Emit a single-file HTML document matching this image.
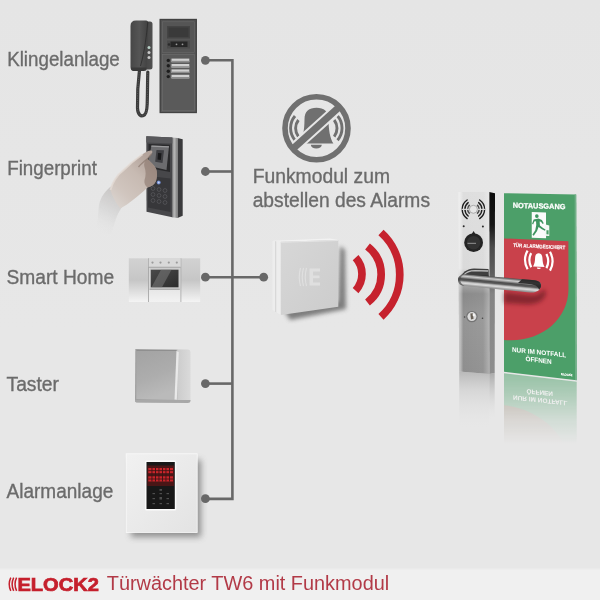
<!DOCTYPE html>
<html lang="de">
<head>
<meta charset="utf-8">
<title>ELOCK2 Türwächter TW6 mit Funkmodul</title>
<style>
html,body{margin:0;padding:0;background:#e8e8e8;}
body{width:600px;height:600px;overflow:hidden;font-family:"Liberation Sans",sans-serif;}
svg{display:block}
.abs{position:absolute;left:0;top:0;}
body{position:relative;}
text{font-family:"Liberation Sans",sans-serif;}
svg{opacity:0.999;}
.lbl{font-size:20.5px;fill:#6b6b6b;stroke:#6b6b6b;stroke-width:0.35px;}
</style>
</head>
<body>
<svg class="abs" width="600" height="600" viewBox="0 0 600 600">
<defs>
<linearGradient id="bg" x1="0" y1="0" x2="0" y2="1">
<stop offset="0" stop-color="#e5e5e5"/>
<stop offset="0.55" stop-color="#e7e7e7"/>
<stop offset="1" stop-color="#e7e7e7"/>
</linearGradient>
<linearGradient id="ftop" x1="0" y1="0" x2="0" y2="1">
<stop offset="0" stop-color="#e7e7e7"/>
<stop offset="1" stop-color="#f0f0f0"/>
</linearGradient>
<linearGradient id="aplate" x1="0" y1="0" x2="1" y2="1">
<stop offset="0" stop-color="#f1f1f1"/><stop offset="1" stop-color="#e3e3e3"/>
</linearGradient>
<filter id="ashadow" x="-20%" y="-20%" width="140%" height="140%"><feGaussianBlur stdDeviation="3"/></filter>
<linearGradient id="dplate" x1="0" y1="0" x2="0" y2="1">
<stop offset="0" stop-color="#dedede"/><stop offset="0.420" stop-color="#dadada"/><stop offset="0.480" stop-color="#b4b4b4"/><stop offset="0.560" stop-color="#8a8a8a"/><stop offset="0.700" stop-color="#959595"/><stop offset="1" stop-color="#8e8e8e"/>
</linearGradient>
<linearGradient id="dplateh" x1="0" y1="0" x2="1" y2="0">
<stop offset="0" stop-color="#fff" stop-opacity="0.550"/><stop offset="0.080" stop-color="#fff" stop-opacity="0.350"/><stop offset="0.160" stop-color="#fff" stop-opacity="0"/><stop offset="0.800" stop-color="#fff" stop-opacity="0.050"/><stop offset="1" stop-color="#fff" stop-opacity="0.300"/>
</linearGradient>
<linearGradient id="dside" x1="0" y1="0" x2="0" y2="1">
<stop offset="0" stop-color="#0b0b0b"/><stop offset="0.180" stop-color="#161616"/><stop offset="0.300" stop-color="#4a4a4a"/><stop offset="0.450" stop-color="#606060"/><stop offset="0.560" stop-color="#848484"/><stop offset="1" stop-color="#8e8e8e"/>
</linearGradient>
<linearGradient id="dhandle" gradientUnits="userSpaceOnUse" x1="498" y1="277" x2="496.800" y2="289.300">
<stop offset="0" stop-color="#505050"/><stop offset="0.100" stop-color="#8a8a8a"/><stop offset="0.200" stop-color="#cdcdcd"/><stop offset="0.300" stop-color="#9c9c9c"/><stop offset="0.420" stop-color="#4c4c4c"/><stop offset="0.550" stop-color="#5c5c5c"/><stop offset="0.680" stop-color="#c2c2c2"/><stop offset="0.780" stop-color="#dadada"/><stop offset="0.900" stop-color="#a4a4a4"/><stop offset="1" stop-color="#888"/>
</linearGradient>
<linearGradient id="dreflp" x1="0" y1="0" x2="0" y2="1">
<stop offset="0" stop-color="#b4b4b4" stop-opacity="0.900"/><stop offset="0.300" stop-color="#cfcfcf" stop-opacity="0.700"/><stop offset="1" stop-color="#e9e9e9" stop-opacity="0"/>
</linearGradient>
<linearGradient id="dreflp2" x1="0" y1="0" x2="0" y2="1">
<stop offset="0" stop-color="#a4a4a4" stop-opacity="0.900"/><stop offset="1" stop-color="#e9e9e9" stop-opacity="0"/>
</linearGradient>
<linearGradient id="dreflg" x1="0" y1="0" x2="0" y2="1">
<stop offset="0" stop-color="#7fb594" stop-opacity="0.950"/><stop offset="0.350" stop-color="#a4cbb3" stop-opacity="0.750"/><stop offset="0.700" stop-color="#cfe0d6" stop-opacity="0.400"/><stop offset="1" stop-color="#e9e9e9" stop-opacity="0"/>
</linearGradient>
<linearGradient id="dreflfade" x1="0" y1="0" x2="0" y2="1">
<stop offset="0" stop-color="#e9e9e9" stop-opacity="0"/><stop offset="1" stop-color="#e9e9e9" stop-opacity="0"/>
</linearGradient>
<linearGradient id="rfade" gradientUnits="userSpaceOnUse" x1="0" y1="374" x2="0" y2="444">
<stop offset="0" stop-color="#fff" stop-opacity="0.520"/><stop offset="0.300" stop-color="#fff" stop-opacity="0.360"/><stop offset="0.650" stop-color="#fff" stop-opacity="0.140"/><stop offset="1" stop-color="#fff" stop-opacity="0"/>
</linearGradient>
<mask id="rmask" maskUnits="userSpaceOnUse" x="500" y="365" width="80" height="100"><rect x="500" y="365" width="80" height="100" fill="url(#rfade)"/></mask>
<filter id="hshadow" x="-20%" y="-50%" width="140%" height="200%"><feGaussianBlur stdDeviation="2"/></filter>
<linearGradient id="fsteel" x1="0" y1="0" x2="1" y2="0">
<stop offset="0" stop-color="#8c8c8c"/><stop offset="0.5" stop-color="#b5b5b5"/><stop offset="1" stop-color="#7a7a7a"/>
</linearGradient>
<linearGradient id="fhand" gradientUnits="userSpaceOnUse" x1="150" y1="160" x2="112" y2="200">
<stop offset="0" stop-color="#b3a39b"/><stop offset="0.350" stop-color="#c7bab2"/><stop offset="0.750" stop-color="#d0c5be"/><stop offset="1" stop-color="#d9d2cd"/>
</linearGradient>
<linearGradient id="fsleeve" gradientUnits="userSpaceOnUse" x1="120" y1="196" x2="100" y2="234">
<stop offset="0" stop-color="#cbc9c8" stop-opacity="1"/><stop offset="0.450" stop-color="#d9d9d9" stop-opacity="0.900"/><stop offset="1" stop-color="#e6e6e6" stop-opacity="0"/>
</linearGradient>
<filter id="fblur" x="-10%" y="-10%" width="120%" height="120%"><feGaussianBlur stdDeviation="0.700"/></filter>
<linearGradient id="ufront" x1="0" y1="0" x2="1" y2="1">
<stop offset="0" stop-color="#d7d7d7"/><stop offset="1" stop-color="#cccccc"/>
</linearGradient>
<filter id="ushadow" x="-30%" y="-30%" width="160%" height="160%"><feGaussianBlur stdDeviation="2.200"/></filter>
<linearGradient id="khand" x1="0" y1="0" x2="1" y2="0">
<stop offset="0" stop-color="#474747"/><stop offset="0.5" stop-color="#555"/><stop offset="1" stop-color="#404040"/>
</linearGradient>
<linearGradient id="kbase" x1="0" y1="0" x2="1" y2="0">
<stop offset="0" stop-color="#3c3c3c"/><stop offset="1" stop-color="#505050"/>
</linearGradient>
<linearGradient id="kpanel" x1="0" y1="0" x2="0" y2="1">
<stop offset="0" stop-color="#515151"/><stop offset="1" stop-color="#5a5a5a"/>
</linearGradient>
<linearGradient id="scab" x1="0" y1="0" x2="0" y2="1">
<stop offset="0" stop-color="#d2d2d2"/><stop offset="0.500" stop-color="#c6c6c6"/><stop offset="0.780" stop-color="#e0e0e0"/><stop offset="1" stop-color="#f4f4f4"/>
</linearGradient>
<linearGradient id="soven" x1="0" y1="0" x2="0" y2="1">
<stop offset="0" stop-color="#dcdcdc"/><stop offset="0.700" stop-color="#e6e6e6"/><stop offset="1" stop-color="#f2f2f2"/>
</linearGradient>
<linearGradient id="sglass" x1="0" y1="0" x2="1" y2="1">
<stop offset="0" stop-color="#4a4a4a"/><stop offset="1" stop-color="#2c2c2c"/>
</linearGradient>
<linearGradient id="tside" x1="0" y1="0" x2="1" y2="0">
<stop offset="0" stop-color="#a0a0a0"/><stop offset="0.740" stop-color="#b5b5b5"/><stop offset="0.780" stop-color="#cdcdcd"/><stop offset="1" stop-color="#dadada"/>
</linearGradient>
<linearGradient id="tfront" x1="0" y1="0" x2="0.300" y2="1">
<stop offset="0" stop-color="#a3a3a3"/><stop offset="0.600" stop-color="#adadad"/><stop offset="1" stop-color="#bababa"/>
</linearGradient>

</defs>
<rect width="600" height="600" fill="url(#bg)"/>
<!-- footer -->
<rect x="0" y="570" width="600" height="30" fill="#f0f0f0"/>
<rect x="0" y="567.500" width="600" height="3" fill="url(#ftop)"/>

<!-- connector lines -->
<g stroke="#686868" stroke-width="2.600" fill="none" stroke-linecap="butt">
<path d="M205 60.300 H232.400 V498.900 H205"/>
<path d="M205 171.500 H232"/>
<path d="M205 277.200 H263.500"/>
<path d="M205 383.600 H232"/>
</g>
<g fill="#686868">
<circle cx="205.400" cy="60.300" r="4.400"/>
<circle cx="205.400" cy="171.500" r="4.400"/>
<circle cx="205.400" cy="277.200" r="4.400"/>
<circle cx="205.400" cy="383.600" r="4.400"/>
<circle cx="205.400" cy="498.700" r="4.400"/>
<circle cx="263.700" cy="277.200" r="4.400"/>
</g>

<!-- labels -->
<text class="lbl" x="7.200" y="65.600" textLength="112.600" lengthAdjust="spacingAndGlyphs">Klingelanlage</text>
<text class="lbl" x="7.200" y="174.700" textLength="89.700" lengthAdjust="spacingAndGlyphs">Fingerprint</text>
<text class="lbl" x="6.500" y="284.200" textLength="107.700" lengthAdjust="spacingAndGlyphs">Smart Home</text>
<text class="lbl" x="6.500" y="390.800" textLength="52.500" lengthAdjust="spacingAndGlyphs">Taster</text>
<text class="lbl" x="6.500" y="498" textLength="106.800" lengthAdjust="spacingAndGlyphs">Alarmanlage</text>
<text class="lbl" x="252.700" y="182.700" textLength="137.300" lengthAdjust="spacingAndGlyphs">Funkmodul zum</text>
<text class="lbl" x="252.700" y="207.200" textLength="177.300" lengthAdjust="spacingAndGlyphs">abstellen des Alarms</text>

<g id="klingel">
<!-- handset cord -->
<path d="M139.500 70 C138 82 137.200 96 137.500 108 C137.700 115 141 116.500 143.500 115.500 C146.500 114.500 147 110 147.200 104 C147.500 94 147.500 82 147.800 72" fill="none" stroke="#3b3b3b" stroke-width="3.200" stroke-linecap="round"/>
<path d="M139.500 70 C138 82 137.200 96 137.500 108 C137.700 115 141 116.500 143.500 115.500 C146.500 114.500 147 110 147.200 104 C147.500 94 147.500 82 147.800 72" fill="none" stroke="#5a5a5a" stroke-width="1" stroke-dasharray="1 1.300"/>
<!-- handset base -->
<rect x="139" y="21.500" width="13.500" height="48" rx="2.500" fill="url(#kbase)"/>
<!-- handset -->
<path d="M130.500 26 Q130.500 20.500 136 20.500 H146 Q148.500 20.500 148.300 24 L146.500 66 Q146.300 70.500 142 70.500 H133.500 Q130.500 70.500 130.500 67 Z" fill="url(#khand)"/>
<path d="M131 67.500 H146.500 V70 Q146 71 142 71 H133.500 Q131 71 131 67.500Z" fill="#3a3a3a"/>
<path d="M147.800 22 C146.500 35 145 50 140.500 66" fill="none" stroke="#2c2c2c" stroke-width="1" opacity="0.800"/>
<circle cx="149" cy="47.500" r="1.500" fill="#b9d2c8"/>
<circle cx="149" cy="52.500" r="1.500" fill="#c9c9c9"/>
<circle cx="149" cy="57.500" r="1.500" fill="#c9c9c9"/>
<!-- door panel -->
<rect x="159.500" y="18.800" width="37.500" height="94.400" fill="url(#kpanel)"/>
<rect x="160.300" y="19.600" width="35.900" height="92.800" fill="none" stroke="#3e3e3e" stroke-width="0.800"/>
<rect x="162.300" y="21.800" width="32" height="30.500" fill="#555" stroke="#6a6a6a" stroke-width="0.600"/>
<rect x="162.300" y="54.300" width="32" height="56.500" fill="#5a5a5a" stroke="#6e6e6e" stroke-width="0.600"/>
<rect x="167" y="26" width="23" height="12.500" fill="#444"/>
<rect x="168.500" y="27.500" width="20" height="9.500" fill="#3a3a3a"/>
<rect x="167" y="40.500" width="23" height="8" fill="#4a4a4a"/>
<rect x="170.500" y="41.500" width="17" height="5.500" fill="#262626"/>
<circle cx="169" cy="44.500" r="1.300" fill="#2a2a2a"/>
<circle cx="176.500" cy="44.300" r="0.900" fill="#9a9a9a"/>
<circle cx="182.500" cy="44.300" r="0.900" fill="#9a9a9a"/>
<g fill="#d0d0d0">
<rect x="171.500" y="58.600" width="17.800" height="3.600"/>
<rect x="171.500" y="64" width="17.800" height="3.600"/>
<rect x="171.500" y="69.400" width="17.800" height="3.600"/>
<rect x="171.500" y="74.800" width="17.800" height="3.600"/>
</g>
<g fill="#8d8d8d">
<rect x="171.500" y="60.800" width="17.800" height="1.400"/>
<rect x="171.500" y="66.200" width="17.800" height="1.400"/>
<rect x="171.500" y="71.600" width="17.800" height="1.400"/>
<rect x="171.500" y="77" width="17.800" height="1.400"/>
</g>
<g fill="#1e1e1e">
<circle cx="168.300" cy="60.400" r="1.700"/>
<circle cx="168.300" cy="65.800" r="1.700"/>
<circle cx="168.300" cy="71.200" r="1.700"/>
<circle cx="168.300" cy="76.600" r="1.700"/>
</g>
</g>

<g id="finger">
<!-- device side -->
<path d="M177.500 138 L182.700 139.200 L182.700 215.800 L177.500 218 Z" fill="#3a3a3c"/>
<!-- steel strip -->
<path d="M171.800 137.400 L177.500 138 L177.500 218 L171.800 217.300 Z" fill="url(#fsteel)"/>
<!-- front face -->
<path d="M146.300 136.300 L172.300 137.400 L172.300 217.300 L146.500 211.800 Z" fill="#47474a"/>
<path d="M146.300 136.300 L172.300 137.400 L172.300 143.500 L146.300 142.500 Z" fill="#58585b"/>
<!-- sensor recess -->
<path d="M148.500 144 L170 144.800 L170 172 L148.500 168 Z" fill="#2a2a2c"/>
<!-- sensor block -->
<path d="M151.500 145.500 L169 146.300 L166.500 170 L147.500 165.500 Z" fill="#6c6c6f"/>
<path d="M151.500 145.500 L169 146.300 L168.800 147.600 L151.200 146.800 Z" fill="#9a9a9c"/>
<path d="M156.500 150 L164 150.300 L162.500 163 L155.200 161.800 Z" fill="#3e3e42"/>
<path d="M158 153 L161.500 153.200 L160.800 160 L157.500 159.600 Z" fill="#19191b"/>
<!-- keypad -->
<path d="M148 176 L170.500 178.500 L170.500 212 L148 207.500 Z" fill="#37373a"/>
<g fill="none" stroke="#5a5a5e" stroke-width="0.700">
<circle cx="153" cy="188.500" r="1.900"/><circle cx="159" cy="189.500" r="1.900"/><circle cx="165" cy="190.500" r="1.900"/>
<circle cx="153" cy="194.500" r="1.900"/><circle cx="159" cy="195.500" r="1.900"/><circle cx="165" cy="196.500" r="1.900"/>
<circle cx="153" cy="200.500" r="1.900"/><circle cx="159" cy="201.500" r="1.900"/><circle cx="165" cy="202.500" r="1.900"/>
</g>
<circle cx="158.700" cy="182.500" r="2" fill="#6d86c8"/>
<circle cx="158.700" cy="182.500" r="1" fill="#c9d6f5"/>
<!-- hand -->
<g filter="url(#fblur)">
<path d="M96 236 L99 205 C101 196 106 190 111.600 186 L125 203 C121 208 117 214 115 222 L110 237 Z" fill="url(#fsleeve)"/>
<path d="M151.400 150.600 C152.600 151 152.600 152.600 151.700 153.600 L147.400 158.800 C150 162 154 164.500 156 168.500 C157.400 172 157.300 177 156 181 C154.800 184.500 151.500 186.500 147.500 187.500 C143 192 135 198.500 127 204.500 L120.300 208.500 C116 203 112 196 110.500 190 C112 183 117 175 122 171.500 C127 166.500 135 159.500 142.500 154.200 C146 152 149.500 150.200 151.400 150.600 Z" fill="url(#fhand)"/>
<path d="M147.400 158.800 C150 162 154 164.500 156 168.500 C157.400 172 157.300 177 156 181 C154.800 184.500 151.500 186.500 147.500 187.500 C145 186 144 183 144.500 180 C146 176 146 171 144.500 167 C143.500 164 144.500 161 147.400 158.800 Z" fill="#8a776d" opacity="0.600"/>
<path d="M151.700 153.600 L147.400 158.800 C144 161.500 141 164 138.500 167" fill="none" stroke="#8a776d" stroke-width="1.300" opacity="0.700"/>
<path d="M142.500 154.200 C135 159.500 127 166.500 122 171.500 C117 175 112 183 110.500 190" fill="none" stroke="#e4dbd5" stroke-width="2" opacity="0.800"/>
</g>
</g>
<g id="smart">
<rect x="128.800" y="258.300" width="71.400" height="43.700" fill="url(#scab)"/>
<!-- oven column -->
<rect x="148.300" y="258.300" width="32.500" height="43.700" fill="url(#soven)"/>
<rect x="148" y="258.300" width="0.800" height="43.700" fill="#9f9f9f"/>
<rect x="180.500" y="258.300" width="0.800" height="43.700" fill="#a5a5a5"/>
<!-- control panel -->
<rect x="148.800" y="258.300" width="31.700" height="8.700" fill="#d9d9d9"/>
<rect x="148.800" y="266.800" width="31.700" height="0.900" fill="#9a9a9a"/>
<g fill="#9b9b9b"><circle cx="152.500" cy="262.600" r="1.100"/><circle cx="160.500" cy="262.600" r="1.100"/><circle cx="168.800" cy="262.600" r="1.100"/><circle cx="176.800" cy="262.600" r="1.100"/></g>
<!-- oven door -->
<rect x="149.500" y="268.200" width="30.300" height="20.800" fill="#c9c9c9"/>
<rect x="150.800" y="269.700" width="27.700" height="17.600" fill="url(#sglass)"/>
<path d="M161 269.700 H171.500 L162 287.300 H151.500 Z" fill="#7a7a7a" opacity="0.550"/>
<rect x="149.500" y="288.800" width="30.300" height="1" fill="#a0a0a0"/>
</g>

<g id="taster">
<!-- outer frame / side -->
<path d="M135.300 349 L188 349.500 Q190.500 349.600 190.500 352 L190.500 399 Q190.500 402.800 187.500 402.800 L136.500 402.300 Q135 402.200 135 400.500 Z" fill="url(#tside)"/>
<path d="M135 400 L190.500 400 L190.500 400.500 Q190.500 403 187.500 403 L136.500 402.500 Q135 402.400 135 400.500 Z" fill="#a8a8a8"/>
<!-- rocker front -->
<path d="M136.500 351 L176.500 351 L174.500 399.500 L136.300 399 Z" fill="url(#tfront)"/>
<!-- rocker right bevel -->
<path d="M176.500 351 L178.800 352 L176.800 399.800 L174.500 399.500 Z" fill="#e9e9e9"/>
<path d="M136.500 351 L176.500 351 L176.600 350 L136.500 350 Z" fill="#8f8f8f"/>
</g>

<g id="alarm">
<rect x="131" y="460" width="70" height="77" fill="#6a6a6a" opacity="0.700" filter="url(#ashadow)"/>
<rect x="126.200" y="453.800" width="71" height="78.700" fill="url(#aplate)"/>
<rect x="126.200" y="453.800" width="71" height="78.700" fill="none" stroke="#fafafa" stroke-width="0.800"/>
<rect x="145" y="460.500" width="31.300" height="50" rx="1.500" fill="#fbfbfb"/>
<rect x="146.500" y="462" width="28.300" height="47" fill="#181818"/>
<rect x="147.300" y="465.500" width="26.700" height="20.500" fill="#4a1616"/>
<g fill="#d8262c">
<rect x="148.300" y="468" width="24.700" height="5.200" opacity="0.900"/>
<rect x="148.300" y="476.300" width="24.700" height="5.200" opacity="0.900"/>
</g>
<g fill="#3a1414">
<rect x="151.500" y="468" width="0.900" height="13.500"/><rect x="155" y="468" width="0.900" height="13.500"/><rect x="158.500" y="468" width="0.900" height="13.500"/><rect x="162" y="468" width="0.900" height="13.500"/><rect x="165.500" y="468" width="0.900" height="13.500"/><rect x="169" y="468" width="0.900" height="13.500"/>
<rect x="148.300" y="470.300" width="24.700" height="0.800"/><rect x="148.300" y="478.600" width="24.700" height="0.800"/>
</g>
<g fill="#4e4e4e">
<rect x="152.500" y="493" width="2.500" height="1.200"/><rect x="159.500" y="493" width="2.500" height="1.200"/><rect x="166.500" y="493" width="2.500" height="1.200"/>
<rect x="152.500" y="498" width="2.500" height="1.200"/><rect x="159.500" y="497" width="2.500" height="2.500"/><rect x="166.500" y="498" width="2.500" height="1.200"/>
<rect x="152.500" y="503" width="2.500" height="1.200"/><rect x="159.500" y="503" width="2.500" height="1.200"/><rect x="166.500" y="503" width="2.500" height="1.200"/>
<rect x="159.500" y="489.500" width="2.500" height="0.900" fill="#888"/>
</g>
</g>

<g id="nobell">
<g fill="none" stroke="#707070" stroke-width="2.900" stroke-linecap="butt">
<path d="M298.400 120 A13.700 13.700 0 0 0 298.400 136.600"/>
<path d="M295 116 A18.700 18.700 0 0 0 295 140.200"/>
<path d="M334.200 120 A13.700 13.700 0 0 1 334.200 136.600"/>
<path d="M337.600 116 A18.700 18.700 0 0 1 337.600 140.200"/>
</g>
<path d="M307 143.600 H299.600 C303 138 304.400 130 304.500 119.500 C304.600 111 309 107.800 316.500 107.800 C324 107.800 328.400 111 328.500 119.500 C328.600 130 330 138 333.400 143.600 H307 Z" fill="#707070"/>
<path d="M310.800 144.800 A5.500 3.800 0 0 0 321.800 144.800 Z" fill="#707070"/>
<line x1="292.400" y1="149.200" x2="340.600" y2="105.800" stroke="#e6e6e6" stroke-width="11"/>
<line x1="293.100" y1="148.600" x2="339.900" y2="106.400" stroke="#707070" stroke-width="7"/>
<circle cx="316.500" cy="128.300" r="31.500" fill="none" stroke="#707070" stroke-width="5.600"/>
</g>

<g id="funk">
<!-- shadow -->
<path d="M284 310 L338 302 L340 246 L345 250 L346 309 L290 320 Z" fill="#5a5a5a" opacity="0.750" filter="url(#ushadow)"/>
<!-- left side -->
<path d="M272.500 240.800 L280.800 241.700 L280.800 315 L272.500 310 Z" fill="#ededed"/>
<path d="M275.300 241.100 L276.200 241.200 L276.200 312.200 L275.300 311.700 Z" fill="#cfcfcf"/>
<!-- top edge -->
<path d="M272.500 240.800 L330 238.600 L338.300 240 L280.800 241.700 Z" fill="#f2f2f2"/>
<!-- front -->
<path d="M280.800 241.700 L338.300 240 L338.300 306.700 L280.800 315 Z" fill="url(#ufront)"/>
<path d="M280.800 241.700 L338.300 240 L338.300 241 L280.800 242.800 Z" fill="#e4e4e4"/>
<!-- logo -->
<g fill="none" stroke="#e4e4e4" stroke-width="1.100" opacity="0.800">
<path d="M300.500 268 Q298 277 300.500 286"/>
<path d="M303.500 268 Q301 277 303.500 286"/>
<path d="M306.500 268 Q304 277 306.500 286"/>
</g>
<path d="M309.500 268.500 H320 V271.500 H313 V275.500 H319.500 V278.300 H313 V282.500 H320 V285.500 H309.500 Z" fill="#e2e2e2" opacity="0.800"/>
</g>

<g id="waves" fill="none" stroke="#c6222e" stroke-width="7.700" stroke-linecap="butt">
<path d="M355.600 257.600 A24.500 24.500 0 0 1 355.600 290.600"/>
<path d="M367.500 246.500 A35.500 35.500 0 0 1 367.500 302.500"/>
<path d="M381 232.500 A56.700 56.700 0 0 1 381 316.800"/>
</g>

<g id="doorbase">
<!-- plate reflection -->
<path d="M459.200 371.500 L489.300 374 L489.300 432 L459.200 432 Z" fill="url(#dreflp)"/>
<path d="M489.300 374 L494.700 373 L494.700 422 L489.300 422 Z" fill="url(#dreflp2)"/>
<!-- plate side -->
<path d="M489.200 192 L495 193.300 L494.700 373 L489.300 374 Z" fill="url(#dside)"/>
<!-- plate front -->
<path d="M458.300 192 L489.200 192 L489.300 374 L459.200 371.500 Z" fill="url(#dplate)"/>
<path d="M458.300 192 L489.200 192 L489.300 374 L459.200 371.500 Z" fill="url(#dplateh)"/>
<!-- speaker -->
<g fill="none" stroke="#1d1d1d" stroke-width="1.400" stroke-linecap="round">
<path d="M468.17 202.60 A8.50 8.50 0 0 0 468.17 216.00"/>
<path d="M478.63 202.60 A8.50 8.50 0 0 1 478.63 216.00"/>
<path d="M467.14 200.01 A11.20 11.20 0 0 0 467.14 218.59"/>
<path d="M479.66 200.01 A11.20 11.20 0 0 1 479.66 218.59"/>
</g>
<g fill="none" stroke="#4a4a4a" stroke-width="1.500">
<path d="M469.67 204.86 A5.80 5.80 0 0 0 469.67 213.74"/>
<path d="M477.13 204.86 A5.80 5.80 0 0 1 477.13 213.74"/>
</g>
<rect x="461.500" y="208.800" width="24" height="1.100" fill="#dedede"/>
<circle cx="473.400" cy="209.300" r="4" fill="#e6e6e6" stroke="#9a9a9a" stroke-width="0.800"/>
<circle cx="463.700" cy="226.300" r="1" fill="#2a2a2a"/>
<circle cx="482.900" cy="226.600" r="1" fill="#2a2a2a"/>
<!-- black knob -->
<circle cx="473.600" cy="242.700" r="9.400" fill="#242424"/>
<path d="M471.800 234 L473.600 231 L475.400 234 Z" fill="#242424"/>
<circle cx="473.600" cy="242.700" r="6.800" fill="#333"/>
<rect x="467.500" y="242.800" width="8.500" height="1.100" fill="#8a8a8a"/>
<!-- keyhole -->
<circle cx="464.600" cy="317" r="0.800" fill="#444"/>
<circle cx="482.500" cy="318.300" r="0.800" fill="#444"/>
<circle cx="471.900" cy="316.600" r="5.700" fill="#747474"/>
<circle cx="471.900" cy="316.600" r="4.500" fill="#dcdcdc"/>
<path d="M470.300 313.500 L472.800 313.200 L473.600 318.800 L471 319.600 Z" fill="#6a6258"/>
<circle cx="473.800" cy="315" r="1.200" fill="#f6f6f6"/>
</g>

<g id="signrefl" mask="url(#rmask)">
<path d="M504.00 553.00 L576.70 557.00 L576.70 381.70 L504.00 373.30 Z" fill="#4c9f69"/>
<path d="M504.00 507.28 L569.14 511.86 L569.14 466.75 C569.14 436.48 540.30 409.05 504.00 405.25 Z" fill="#c9414b" fill-opacity="0.450"/>
<g transform="matrix(1.00481 0.11036 0.00000 -0.98636 504.427 551.096)" fill="#fff" font-weight="bold" font-size="6.500"><text x="8.600" y="159.100" textLength="54.200" lengthAdjust="spacingAndGlyphs">NUR IM NOTFALL</text><text x="22" y="166.900" textLength="26.300" lengthAdjust="spacingAndGlyphs">ÖFFNEN</text></g>
</g>
<g id="sign">
<path d="M504.00 193.20 L576.20 194.50 L576.70 380.20 L504.00 371.80 Z" fill="#4c9f69"/>
<path d="M504.00 238.42 L568.36 241.17 L568.48 288.55 C568.55 320.44 539.10 343.32 504.00 339.88 Z" fill="#c9414b"/>
<path d="M574.65 194.47 L576.20 194.50 L576.70 380.20 L575.14 380.02 Z" fill="#73b089"/>
<g transform="matrix(0.99604 0.02437 0.00128 1.00500 503.345 192.957)"><text x="9.400" y="14.600" font-size="7.400" font-weight="bold" fill="#fff" stroke="#fff" stroke-width="0.250" textLength="53" lengthAdjust="spacingAndGlyphs">NOTAUSGANG</text></g>
<g transform="matrix(0.99886 0.03413 0.00136 1.00743 503.242 192.555)">
<rect x="28.500" y="18.300" width="14.300" height="25.500" fill="#fbfbfb"/>
<path d="M41.500 30 L46 31.200 L46 41.500 L41.500 41.500 Z" fill="#f4f8f5"/>
<g fill="#3f9460">
<circle cx="33.600" cy="22.300" r="1.800"/>
<path d="M30.400 25.700 L35.200 24.600 L38.700 26 L40.500 29 L39.500 29.800 L37.700 27.800 L36.400 27.500 L36.700 31.500 L39.800 33.800 L42.300 35.300 L41.700 36.600 L38.600 35.200 L35.300 33 L33.800 37 L30.500 41.800 L29.100 41 L32 36.300 L33 31 L32.800 27.300 L31 27.800 L29.900 30.600 L28.800 30 Z"/>
<rect x="43.200" y="36" width="2.200" height="4" fill="#4c9f69"/>
</g>

</g>
<g transform="matrix(0.99760 0.04648 0.00129 1.00809 503.290 192.083)"><text x="9.800" y="54" font-size="5.100" font-weight="bold" fill="#fff" stroke="#fff" stroke-width="0.150" textLength="52.300" lengthAdjust="spacingAndGlyphs">TÜR ALARMGESICHERT</text></g>
<g transform="matrix(0.99921 0.05412 0.00133 1.00969 503.231 191.716)">
<g fill="none" stroke="#fff" stroke-width="2.200">
<path d="M27.900 59.300 A15 15 0 0 0 27.900 73.300"/>
<path d="M24.300 57 A19 19 0 0 0 24.300 75.600"/>
<path d="M43.100 59.300 A15 15 0 0 1 43.100 73.300"/>
<path d="M46.700 57 A19 19 0 0 1 46.700 75.600"/>
</g>
<path d="M29.700 72.400 C31.300 70 31.700 67 31.800 64 C31.900 60.600 33.300 59.100 35.500 59.100 C37.700 59.100 39.100 60.600 39.200 64 C39.300 67 39.700 70 41.300 72.400 Z" fill="#fff"/>
<path d="M33.500 73.200 A2 1.500 0 0 0 37.500 73.200 Z" fill="#fff"/>

</g>
<g transform="matrix(1.00159 0.10317 0.00130 1.01600 503.150 189.267)" fill="#fff" font-weight="bold" font-size="6.500"><text x="8.600" y="159.100" textLength="54.200" lengthAdjust="spacingAndGlyphs">NUR IM NOTFALL</text></g>
<g transform="matrix(1.00189 0.10757 0.00130 1.01662 503.139 189.015)" fill="#fff" font-weight="bold" font-size="6.500"><text x="22" y="166.900" textLength="26.300" lengthAdjust="spacingAndGlyphs">ÖFFNEN</text></g>
<g transform="matrix(1.03204 0.11699 0.00237 1.03256 501.491 185.838)"><text x="57.300" y="176.700" font-size="2.900" font-weight="bold" fill="#fff" stroke="#fff" stroke-width="0.150" textLength="11" lengthAdjust="spacingAndGlyphs">ELOCK2</text></g>
</g>
<g id="doortop">
<!-- handle shadow on sign -->
<path d="M504 292 L530 295 C538 295.500 543 292 544 288 L546 294 C544 301 536 304.500 528 304.500 L504 303 Z" fill="#4a0e14" opacity="0.500" filter="url(#hshadow)"/>
<!-- back leg -->
<path d="M460 278.500 C462 272.500 467 268.800 474 268.600 L488.500 269 L489 278 L466 279 Z" fill="#3f3f3f"/>
<path d="M463.500 275.500 C466 272 470 270.600 475 270.600 L488 271" fill="none" stroke="#bdbdbd" stroke-width="1.300"/>
<path d="M466 277.300 C470 275.300 478 275 488.500 275.800 L488.500 278 L466 279 Z" fill="#262626"/>
<!-- main bar -->
<path d="M464.500 274.200 C460.500 274.200 458 276.800 458 280 C458 283.300 460.500 285.800 464.500 285.800 L530 292.500 C537 293 541 289.500 541 285.200 C541 282 538 280.300 532 280 Z" fill="url(#dhandle)"/>
<!-- left cap shading -->
<path d="M464.500 274.200 C460.500 274.200 458 276.800 458 280 C458 283.300 460.500 285.800 464.500 285.800 C461.500 284.500 460.300 282.500 460.300 280 C460.300 277.500 461.800 275.300 464.500 274.200 Z" fill="#4a4a4a" opacity="0.700"/>
<!-- right cap -->
<path d="M522 279.200 L532 280 C538 280.300 541 282 541 285.200 C541 287 540.300 288.500 539 289.800 C538.500 286.500 535 284.500 529 284 L518 283 Z" fill="#262626" opacity="0.920"/>
</g>


<!-- footer logo + title -->
<g fill="none" stroke="#c5202d" stroke-width="1.500">
<path d="M10.800 577.600 Q7.600 584.200 10.800 590.900"/>
<path d="M13.700 577.600 Q10.500 584.200 13.700 590.900"/>
<path d="M16.600 577.600 Q13.400 584.200 16.600 590.900"/>
</g>

<text x="17.400" y="590.900" font-size="18.700" font-weight="bold" fill="#c5202d" stroke="#c5202d" stroke-width="0.700" textLength="81.600" lengthAdjust="spacingAndGlyphs">ELOCK2</text>
<text x="106.800" y="590.400" font-size="20" fill="#b23a47" textLength="282.400" lengthAdjust="spacingAndGlyphs">Türwächter TW6 mit Funkmodul</text>
</svg>
</body>
</html>
